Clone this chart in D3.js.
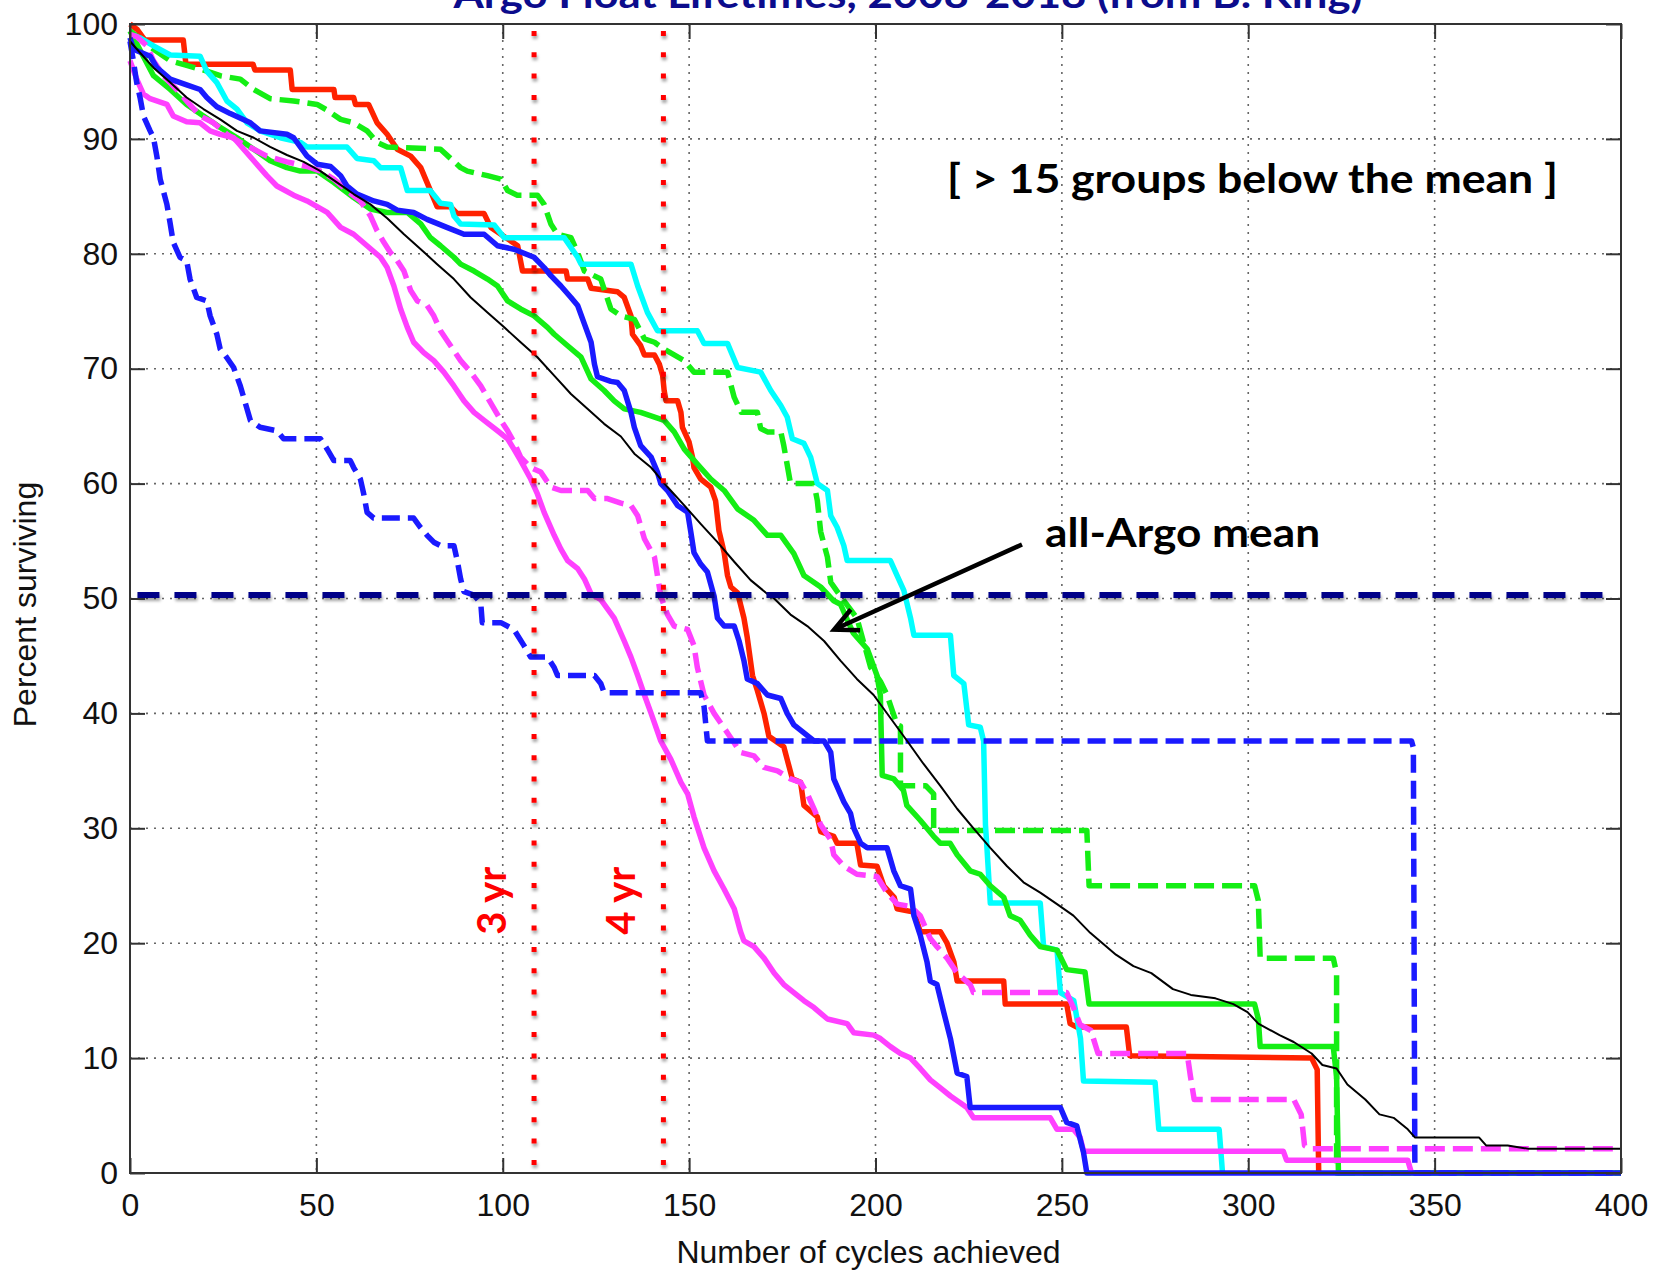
<!DOCTYPE html>
<html>
<head>
<meta charset="utf-8">
<script src="https://cdn.jsdelivr.net/npm/d3@7"></script>
<style>
    body { margin: 0; background: #fff; }
    #chart-area { width: 1656px; height: 1273px; }
    .axis text { font-family: "Liberation Sans", Arial, sans-serif; font-size: 32px; fill: #111; }
    .axis line { stroke: #333; stroke-width: 2; }
    .grid line { stroke: #666; stroke-width: 1.6; stroke-dasharray: 2, 6; }
    .axis-label { font-family: "Liberation Sans", Arial, sans-serif; font-size: 32px; fill: #111; }
    .note { font-family: Lato, "Open Sans", sans-serif; font-weight: 700; }
</style>
</head>
<body>
<div id="chart-area"></div>
<script>

// tick labels
const cycleTicks = [0, 50, 100, 150, 200, 250, 300, 350, 400];
const percentTicks = [0, 10, 20, 30, 40, 50, 60, 70, 80, 90, 100];

// reference markers (cycles) and the 50% line
const yearMarkers = [{label: "3 yr", cycles: 108.4}, {label: "4 yr", cycles: 143.1}];
const halfLevel = 50.3;

// survival curves, [cycles achieved, percent surviving]
const redSolid = [[0,100],[2,99.5],[4,98.6],[14.3,98.6],[15,96.5],[33,96.5],[33.5,96],[43,96],[43.5,94.3],[54.7,94.3],[55,93.6],[60,93.6],[60.5,93],[64,93],[66.3,91.4],[69,90.4],[71.7,89.1],[75.3,88.5],[78,87.5],[80.6,85.5],[82.4,84.1],[86,84.1],[87.8,83.5],[95,83.5],[96.8,82.3],[99.5,81.7],[104,80.7],[105.3,78.5],[117,78.5],[117.4,77.8],[122.8,77.8],[123.7,77],[130.8,76.7],[132.6,76.2],[134.4,74.6],[134.8,73],[137,72],[138,71.2],[140.7,71.2],[142,70.4],[142.9,69.4],[143.3,68.1],[143.8,67.2],[146.9,67.2],[147.8,66.2],[148.2,64.9],[150,63.6],[150.9,62.3],[151.3,61.4],[153.1,60.4],[155.8,59.7],[157.1,58.5],[158,55.9],[159.4,54],[160.3,52],[161.2,51],[163,50.5],[164.7,48.3],[165.6,46.6],[167,43.3],[168.3,42],[170.1,40],[171.4,38],[175.4,37.1],[176.3,36],[177.7,34.3],[179.9,34],[180.8,32],[184.4,31],[185.3,29.7],[188.8,29.3],[189.7,28.7],[195,28.7],[196,26.8],[200.4,26.7],[202.2,25],[205,24],[205.8,23],[210.3,22.7],[212,21],[217.4,21],[219.2,20],[221,18.4],[221.9,16.7],[234.4,16.7],[234.8,14.7],[251.3,14.7],[252.2,13],[254,12.7],[267.3,12.7],[268.2,10.2],[317,10],[318.5,9],[318.9,0]];

const greenDashed = [[0,99.4],[6.3,97.8],[10.8,96.8],[15.2,96.4],[20.6,95.9],[24.2,95.5],[29.6,95.2],[33.2,94.3],[37.6,93.5],[43.9,93.3],[50.2,93],[52.9,92.5],[56.5,91.7],[60,91.4],[63.6,90.7],[66.3,89.7],[69,89.3],[83.3,89.1],[86,88.3],[88.7,87.5],[90.5,87.2],[95.9,86.8],[99.5,86.5],[101.3,85.5],[103.9,85.1],[109.3,85.1],[111.1,84.3],[112.9,82.6],[114.7,81.7],[118.3,81.4],[120.1,80.1],[121.9,78.5],[126.3,77.8],[129,75.2],[131.7,74.6],[135.3,74.3],[138,72.6],[140.7,72.3],[143.3,71.7],[148.7,70.7],[151.3,69.7],[160.3,69.7],[162.1,67.5],[164,66.2],[168.3,66.2],[169.2,64.8],[171,64.5],[174.6,64.5],[175.4,63.3],[177.2,60],[183.5,60],[184.4,58.5],[185.3,55.8],[187.1,53.6],[188,51.4],[190.6,50.2],[195,48.3],[198.7,44],[201.3,42.8],[203.1,41.6],[205.8,39],[206.7,38.9],[206.7,33.7],[213.5,33.7],[215.6,33],[215.6,29.8],[256.7,29.8],[257.3,25],[301.7,25],[302.7,23.7],[303.2,18.7],[322.8,18.7],[323.7,17.4],[323.7,0],[400,0]];

const cyanSolid = [[0,99.1],[2.7,98.8],[6.3,98.1],[10.8,97.3],[18.8,97.2],[20.6,95.9],[23.3,94.9],[26,93.3],[28.7,92.6],[31.4,91.4],[34.9,90.7],[40.3,90.1],[45.7,89.7],[47.5,89.3],[58.2,89.3],[60.9,88.3],[65.4,88.1],[67.2,87.5],[72.6,87.5],[74.4,85.5],[80.6,85.5],[83.3,84.4],[86,84.3],[86.9,83.3],[88.7,82.6],[97.7,82.5],[100.4,81.4],[116.5,81.4],[120.1,79.7],[121,79.1],[134.4,79.1],[136.2,77.2],[138.8,74.9],[141.5,73.3],[152.2,73.3],[154,72.2],[160.3,72.2],[163,70.1],[169.2,69.7],[171.9,68.1],[174.6,66.8],[176.3,65.8],[177.7,63.9],[180.8,63.5],[182.6,62.3],[184.4,60],[187.1,59.4],[188,57.2],[189.7,56.2],[191.5,54.6],[192.4,53.3],[204,53.3],[205.8,52],[207.6,50.7],[209.4,48.3],[210.3,46.8],[220.1,46.8],[221,43.3],[223.7,42.6],[225,39],[228.1,38.8],[229,37.6],[229.5,30.3],[229.9,28.3],[230.8,23.5],[244.2,23.5],[245.1,19.7],[248.7,19.4],[249.6,15.7],[253.2,15],[255,11.7],[255.8,8],[275,7.9],[276,3.8],[292.2,3.8],[293.1,0]];

const greenSolid = [[0,99.4],[6.3,95.5],[10.8,94.3],[15.2,93],[19.7,92],[24.2,91],[28.7,90.1],[33.2,89.1],[37.6,88.1],[42.1,87.5],[45.7,87.2],[50.2,87.2],[54.7,86.2],[60,84.9],[64.5,83.9],[69,83.6],[74.4,83.6],[78,82.6],[80.6,81.4],[83.3,80.7],[86.9,79.7],[88.7,79.1],[92.3,78.5],[95.9,77.8],[98.6,77.2],[101.3,75.9],[104.8,75.2],[108.4,74.6],[112,73.6],[113.8,73],[117.4,72],[121,71],[123.7,69.1],[127.2,68.1],[129.9,67.2],[132.6,66.5],[137,66.2],[143.3,65.5],[146,64.5],[148.7,63],[152.2,61.7],[155.8,60.4],[159.4,59.4],[163,57.8],[167.4,56.8],[171,55.5],[174.6,55.5],[178.1,53.9],[180.8,52],[185.3,51],[188.8,49.8],[190.6,49.5],[194,47],[197.8,45.6],[200.4,43.3],[201.3,41.6],[201.8,34.6],[204.9,34.3],[207.5,33.3],[208.4,32],[212,30.7],[215.6,29.3],[217.4,28.7],[220,28.7],[221.9,27.7],[225.4,26.3],[228.1,26],[230.8,25],[234.4,24],[236.1,22.4],[238.8,22],[241.5,20.7],[244.2,19.7],[248.7,19.4],[251.3,17.7],[256.2,17.5],[257.3,14.7],[301.7,14.7],[302.7,13.4],[303.2,11],[322.8,11],[323.7,8.4],[324.2,0],[400,0]];

const blueSolid = [[0,98.8],[0.9,97.8],[5.4,97.2],[7.2,96.2],[10.8,95.2],[15.2,94.7],[18.8,94.3],[20.6,93.6],[23.3,92.8],[26.9,92.2],[32.3,91.4],[34.9,90.7],[42.1,90.4],[43.9,90.1],[47.5,88.5],[50.2,87.8],[53.8,87.6],[56.5,86.8],[58.2,85.9],[60.9,85.2],[65.4,84.6],[69,84.3],[71.7,83.8],[76.1,83.6],[79.7,83],[85,82.3],[89.6,81.7],[95,81.7],[98.6,80.7],[103,80.4],[108.4,79.7],[111.1,78.8],[112.9,78.1],[115.6,77.2],[118.3,76.2],[120.1,75.5],[121.9,73.9],[123.7,72.3],[124.6,70.4],[125.4,69.3],[129,68.9],[130.8,68.8],[132.6,68.1],[134.4,66.2],[135.3,64.9],[137,63.3],[139.8,62.3],[141.5,61],[142.4,60],[144.2,59.4],[146.9,58.1],[149.6,57.5],[150.4,55.9],[151.3,54],[153.1,53],[154.9,52.3],[156.7,50.2],[157.6,48.3],[159.4,47.6],[162.1,47.6],[163.4,46.3],[164.7,44.6],[165.6,43],[168.3,42.6],[171,41.6],[174.6,41.3],[176.3,40],[178.1,39],[180.8,38.3],[183.5,37.6],[186.2,37.6],[188,36.6],[188.8,34.3],[191.5,32.3],[193.3,31.3],[194.2,30],[196,28.7],[197.8,28.3],[203.1,28.3],[204.9,26.3],[206.7,25],[209.4,24.7],[210.3,22.4],[212,20.7],[213.8,18.4],[214.7,16.7],[216.5,16.4],[218.3,14],[220.1,11.7],[221.9,8.7],[224.5,8.4],[225.4,5.7],[249.6,5.7],[251.3,4.4],[254,4.1],[255.8,1.8],[256.7,0],[400,0]];

const magentaDashed = [[0,99.1],[1.8,98.9],[4.5,98.1],[6.3,96.8],[9,95.5],[12.5,94.3],[15.2,93.3],[18.8,92],[22.4,91.4],[26,90.4],[29.6,89.7],[33.2,89.1],[36.7,88.5],[42.1,88],[47.5,87.6],[51.1,87.2],[54.7,86.5],[58.2,85.5],[61.8,84.6],[64.5,83.3],[66.3,82],[68.1,81],[69.9,80.1],[71.7,79.4],[73.5,78.5],[75.3,76.8],[77.1,75.9],[79.7,75.5],[81.5,74.6],[83.3,73.3],[86,72],[88.7,70.7],[91.4,69.7],[94.1,68.5],[95.9,67.5],[97.7,66.5],[99.5,65.5],[101.3,64.6],[103,63.6],[104.8,62.3],[107.5,61.4],[110.2,61],[112.9,59.7],[115.6,59.4],[122.8,59.4],[124.6,58.7],[128.1,58.7],[131.7,58.3],[134.4,58.1],[136.2,57.2],[138,55.2],[140.7,53.6],[141.5,52],[142.4,50.2],[144.2,48.6],[146,47.6],[149.6,47.3],[151.3,45.9],[152.2,44],[154,41.6],[156.7,40],[160.3,38.3],[163.8,36.6],[167.4,36.3],[170.1,35.3],[173.7,35],[177.2,34.3],[179.9,34],[181.7,33],[183.5,31.7],[185.3,30.3],[188,29],[188.8,27.7],[191.5,26.7],[195,26],[200.4,25.8],[203.1,24.4],[205.8,23.4],[209.4,23.2],[212,22.4],[214.7,20.4],[216.5,19.7],[219.2,18.7],[221.9,17.4],[225.4,16.4],[226.3,15.7],[251.3,15.7],[253.1,14.4],[254.9,12.9],[257.8,12.4],[259.7,10.4],[283.6,10.4],[284.5,8.4],[285.5,6.4],[312.2,6.4],[314.2,5.1],[315.1,2.4],[317,2.1],[400,2.1]];

const magentaSolid = [[0,96.8],[1.8,95.2],[3.6,93.9],[5.4,93.5],[9.9,93],[11.6,92],[15.2,91.5],[18.8,91.4],[21.5,90.7],[24.2,90.4],[27.8,90.1],[30.5,89.1],[33.2,88.1],[36.7,86.8],[39.4,85.9],[43.9,85.1],[47.5,84.6],[50.2,84.1],[52.9,83.6],[56.5,82.3],[60,81.7],[63.6,80.7],[67.2,79.7],[69,78.8],[70.8,77.2],[72.6,75.2],[74.4,73.6],[76.1,72.3],[78.8,71.4],[81.5,70.7],[84.2,69.7],[86.9,68.5],[89.6,67.2],[92.3,66.2],[95,65.5],[98.6,64.6],[101.3,63.9],[103,63],[104.8,62],[107.5,60.4],[109.3,59.1],[111.1,57.5],[113.8,55.5],[115.6,54.3],[117.4,53.3],[120.1,52.6],[121.9,51.7],[123.7,50.4],[126.3,49.9],[129.9,48.3],[132.6,46.3],[134.4,44.9],[136.2,43.3],[138,41.6],[139.8,40],[142.4,37.6],[145.1,36],[147.8,34],[149.6,33],[151.3,31],[154,28.3],[156.7,26.3],[159.4,24.7],[162.1,23],[163.8,21],[164.7,20.2],[167.4,19.7],[170.1,18.7],[172.8,17.4],[175.4,16.4],[178.1,15.7],[180.8,15],[183.5,14.4],[187.1,13.4],[192.4,13],[194.2,12.2],[199.5,12],[201.3,11.7],[204,11],[206.7,10.4],[209.4,10],[212,9.1],[214.7,8.1],[217.4,7.4],[220.1,6.7],[222.8,6.1],[224.5,5.7],[226.3,4.8],[246.9,4.8],[248.7,3.8],[253.1,3.8],[254.9,3.1],[255.8,1.9],[309.4,1.9],[310.3,1.1],[342.8,1.1],[343.8,0]];

const blueDashed = [[0,98.5],[0.9,96.8],[1.8,94.9],[2.7,93.6],[3.6,92],[5.4,90.7],[6.3,90.1],[7.2,88.5],[8.1,86.5],[9.9,84.3],[10.8,82.6],[11.6,81],[13.4,79.7],[15.2,79.4],[16.1,77.8],[17.9,76.2],[20.6,75.9],[21.5,74.6],[23.3,73],[24.2,71.7],[25.9,71],[27.8,70.1],[29.6,68.5],[31.4,66.5],[32.3,65.5],[34.9,64.9],[39.4,64.6],[41.2,63.9],[51.1,63.9],[52.9,63],[54.7,62],[59.1,62],[60,61.4],[61.8,60.4],[62.7,59.1],[63.6,57.5],[65.4,57],[76.1,57],[77.9,56.2],[79.7,55.5],[81.5,54.9],[83.3,54.6],[86.9,54.6],[87.8,53.3],[88.7,51.7],[89.6,50.6],[92.3,50.3],[94.1,49.6],[94.5,47.9],[99.5,47.9],[103,47.3],[105.7,45.9],[107.5,44.9],[112,44.9],[113.8,44],[114.7,43.3],[124.6,43.3],[126.3,42.6],[127.2,41.8],[153.1,41.8],[154,40.6],[154.9,37.6],[343.8,37.6],[344.3,37],[344.7,0],[400,0]];

const allArgoMean = [[0,98.5],[2.7,97.5],[6.3,96.2],[10.8,94.9],[15.2,93.6],[19.7,92.6],[24.2,91.7],[28.7,90.7],[33.2,90.1],[37.6,89.3],[42.1,88.6],[46.6,88],[51.1,87.2],[55.6,86.2],[60,85.2],[64.5,84.3],[69,83.1],[73.5,81.7],[78,80.4],[82.4,79.1],[86.9,77.8],[91.4,76.2],[95.9,74.9],[100.4,73.6],[104.8,72.3],[109.3,71],[113.8,69.4],[118.3,67.8],[122.8,66.5],[127.2,65.2],[131.7,64.1],[135.3,62.6],[139.8,61.4],[144.2,59.7],[148.7,58.1],[153.1,56.5],[157.6,54.9],[162.1,53.2],[166.5,51.6],[171,50.4],[172.8,50],[177.2,48.6],[181.7,47.6],[186.2,46.3],[190.6,44.6],[195,43],[199.5,41.6],[204,39.6],[208.5,37.6],[212.9,35.6],[217.4,33.7],[221.9,31.7],[226.3,30],[230.8,28.3],[235.3,26.7],[239.7,25.3],[244.2,24.4],[248.7,23.4],[253.1,22.4],[257.6,20.9],[264.5,19],[269.2,18],[274,17.4],[279.8,16],[284.6,15.5],[291.2,15.2],[296,14.7],[299.8,14],[302.7,13],[308.4,12],[312.2,11.4],[317,10.4],[319.9,9.4],[323.7,9.1],[326.6,7.7],[331.4,6.4],[335.2,5.1],[339,4.8],[342.8,3.8],[344.7,3.1],[361.9,3.1],[363.8,2.4],[369.6,2.4],[375.3,2.1],[400,2.1]];


class SurvivalChart {

    constructor(parentElement) {
        this.parentElement = parentElement;

        // drawing order: later entries sit on top
        this.series = [
            {values: redSolid, color: "#ff2200", dash: null, width: 5.5},
            {values: greenDashed, color: "#14ee14", dash: "20,8", width: 5.5},
            {values: cyanSolid, color: "#00ffff", dash: null, width: 5.5},
            {values: greenSolid, color: "#14ee14", dash: null, width: 5.5},
            {values: magentaDashed, color: "#ff40ff", dash: "20,8", width: 5.5},
            {values: magentaSolid, color: "#ff40ff", dash: null, width: 5.5},
            {values: blueSolid, color: "#1a1aff", dash: null, width: 5.5},
            {values: blueDashed, color: "#1a1aff", dash: "18,8", width: 5.5},
            {values: allArgoMean, color: "#000000", dash: null, width: 2}
        ];

        this.initVis();
    }

    initVis() {
        let vis = this;

        vis.margin = {top: 24, right: 35, bottom: 100, left: 130};
        vis.width = 1656 - vis.margin.left - vis.margin.right;
        vis.height = 1273 - vis.margin.top - vis.margin.bottom;

        vis.root = d3.select("#" + vis.parentElement).append("svg")
            .attr("width", 1656)
            .attr("height", 1273);

        vis.root.append("rect")
            .attr("width", 1656)
            .attr("height", 1273)
            .attr("fill", "#fff");

        let filter = vis.root.append("defs").append("filter")
            .attr("id", "soft-shadow")
            .attr("filterUnits", "userSpaceOnUse")
            .attr("x", 0).attr("y", 0)
            .attr("width", 1656).attr("height", 1273);
        filter.append("feDropShadow")
            .attr("dx", 1).attr("dy", 3)
            .attr("stdDeviation", 1.8)
            .attr("flood-color", "#000")
            .attr("flood-opacity", 0.35);

        vis.svg = vis.root.append("g")
            .attr("transform", `translate(${vis.margin.left}, ${vis.margin.top})`);

        vis.x = d3.scaleLinear()
            .domain([0, 400])
            .range([0, vis.width]);

        vis.y = d3.scaleLinear()
            .domain([0, 100])
            .range([vis.height, 0]);

        vis.line = d3.line()
            .x(d => vis.x(d[0]))
            .y(d => vis.y(d[1]));

        vis.updateVis();
    }

    updateVis() {
        let vis = this;

        // dotted grid
        let grid = vis.svg.append("g").attr("class", "grid");
        grid.selectAll(".vgrid")
            .data(cycleTicks.slice(1, -1))
            .join("line")
            .attr("class", "vgrid")
            .attr("x1", d => vis.x(d)).attr("x2", d => vis.x(d))
            .attr("y1", 0).attr("y2", vis.height);
        grid.selectAll(".hgrid")
            .data(percentTicks.slice(1, -1))
            .join("line")
            .attr("class", "hgrid")
            .attr("x1", 0).attr("x2", vis.width)
            .attr("y1", d => vis.y(d)).attr("y2", d => vis.y(d));

        // survival curves
        vis.svg.selectAll(".curve")
            .data(vis.series)
            .join("path")
            .attr("class", "curve")
            .attr("d", d => vis.line(d.values))
            .attr("fill", "none")
            .attr("stroke", d => d.color)
            .attr("stroke-width", d => d.width)
            .attr("stroke-dasharray", d => d.dash)
            .attr("stroke-linejoin", "round");

        // 50% line
        vis.svg.append("line")
            .attr("x1", vis.x(2)).attr("x2", vis.x(398.5))
            .attr("y1", vis.y(halfLevel)).attr("y2", vis.y(halfLevel))
            .attr("stroke", "#000088")
            .attr("stroke-width", 6)
            .attr("stroke-dasharray", "22,15")
            .attr("filter", "url(#soft-shadow)");

        // 3 yr / 4 yr markers
        let markers = vis.svg.selectAll(".marker")
            .data(yearMarkers)
            .join("g")
            .attr("class", "marker");
        markers.append("line")
            .attr("x1", d => vis.x(d.cycles)).attr("x2", d => vis.x(d.cycles))
            .attr("y1", 7).attr("y2", vis.height - 4)
            .attr("stroke", "#ff0000")
            .attr("stroke-width", 5)
            .attr("stroke-dasharray", "5,16.3")
            .attr("filter", "url(#soft-shadow)");
        markers.append("text")
            .attr("class", "note")
            .attr("transform", d => `translate(${vis.x(d.cycles) - 28}, ${vis.y(23.7)}) rotate(-90)`)
            .attr("text-anchor", "middle")
            .attr("font-size", 40)
            .attr("fill", "#ff0000")
            .text(d => d.label);

        // axes with inward ticks on all four sides
        vis.svg.append("g")
            .attr("class", "axis x-axis")
            .attr("transform", `translate(0, ${vis.height})`)
            .call(d3.axisBottom(vis.x).tickValues(cycleTicks).tickSize(-15).tickSizeOuter(0).tickPadding(20))
            .call(g => g.select(".domain").remove());
        vis.svg.append("g")
            .attr("class", "axis x-axis-top")
            .call(d3.axisTop(vis.x).tickValues(cycleTicks).tickSize(-15).tickSizeOuter(0).tickFormat(""))
            .call(g => g.select(".domain").remove());
        vis.svg.append("g")
            .attr("class", "axis y-axis")
            .call(d3.axisLeft(vis.y).tickValues(percentTicks).tickSize(-15).tickSizeOuter(0).tickPadding(12))
            .call(g => g.select(".domain").remove());
        vis.svg.append("g")
            .attr("class", "axis y-axis-right")
            .attr("transform", `translate(${vis.width}, 0)`)
            .call(d3.axisRight(vis.y).tickValues(percentTicks).tickSize(-15).tickSizeOuter(0).tickFormat(""))
            .call(g => g.select(".domain").remove());

        vis.svg.append("rect")
            .attr("width", vis.width)
            .attr("height", vis.height)
            .attr("fill", "none")
            .attr("stroke", "#333")
            .attr("stroke-width", 2);

        // axis titles
        vis.svg.append("text")
            .attr("class", "axis-label")
            .attr("x", vis.width / 2 - 7)
            .attr("y", vis.height + 90)
            .attr("text-anchor", "middle")
            .text("Number of cycles achieved");
        vis.svg.append("text")
            .attr("class", "axis-label")
            .attr("transform", `translate(${-94}, ${vis.height / 2 + 6}) rotate(-90)`)
            .attr("text-anchor", "middle")
            .text("Percent surviving");

        // title (cut off at the top edge, as in the original slide)
        vis.root.append("text")
            .attr("class", "note")
            .attr("x", 908)
            .attr("y", 8)
            .attr("text-anchor", "middle")
            .attr("font-size", 38)
            .attr("fill", "#0c0c8c")
            .attr("textLength", 909)
            .attr("lengthAdjust", "spacingAndGlyphs")
            .text("Argo Float Lifetimes, 2008-2018 (from B. King)");

        // annotations
        vis.svg.append("text")
            .attr("class", "note")
            .attr("x", vis.x(219.2))
            .attr("y", vis.y(85.3))
            .attr("font-size", 40)
            .attr("fill", "#000")
            .attr("textLength", 611)
            .attr("lengthAdjust", "spacingAndGlyphs")
            .text("[ > 15 groups below the mean ]");

        vis.svg.append("text")
            .attr("class", "note")
            .attr("x", vis.x(245.5))
            .attr("y", vis.y(54.5))
            .attr("font-size", 40)
            .attr("fill", "#000")
            .attr("textLength", 275)
            .attr("lengthAdjust", "spacingAndGlyphs")
            .text("all-Argo mean");

        let tail = [vis.x(239.3), vis.y(54.7)];
        let tip = [vis.x(188.9), vis.y(47.3)];
        let angle = Math.atan2(tail[1] - tip[1], tail[0] - tip[0]);
        let headLen = 26, spread = 0.45;
        vis.svg.append("path")
            .attr("d", `M${tail[0]},${tail[1]}L${tip[0]},${tip[1]}` +
                `M${tip[0] + headLen * Math.cos(angle - spread)},${tip[1] + headLen * Math.sin(angle - spread)}` +
                `L${tip[0]},${tip[1]}` +
                `L${tip[0] + headLen * Math.cos(angle + spread)},${tip[1] + headLen * Math.sin(angle + spread)}`)
            .attr("fill", "none")
            .attr("stroke", "#000")
            .attr("stroke-width", 4.5)
            .attr("stroke-linejoin", "miter");
    }
}

new SurvivalChart("chart-area");

</script>
</body>
</html>
